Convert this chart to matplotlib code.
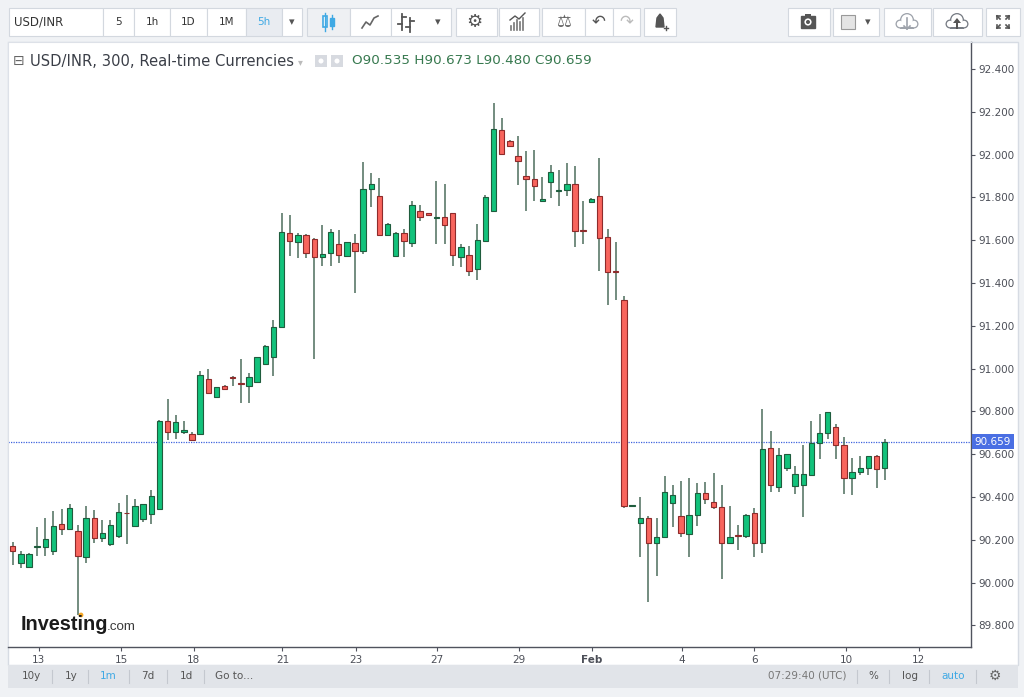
import numpy as np
import matplotlib.pyplot as plt
from matplotlib.patches import Rectangle, Circle, Polygon
from matplotlib.transforms import blended_transform_factory

W, H = 1024, 697

# 5h candles, USD/INR
opens = [90.170, 90.092, 90.075, 90.166, 90.168, 90.149, 90.272, 90.249, 90.240, 90.118,
         90.304, 90.209, 90.181, 90.216, 90.327, 90.266, 90.299, 90.321, 90.343, 90.757,
         90.702, 90.702, 90.693, 90.693, 90.950, 90.869, 90.917, 90.962, 90.932, 90.920,
         90.936, 91.020, 91.056, 91.196, 91.635, 91.590, 91.626, 91.607, 91.523, 91.538,
         91.580, 91.527, 91.585, 91.551, 91.837, 91.805, 91.626, 91.527, 91.632, 91.585,
         91.738, 91.725, 91.704, 91.707, 91.726, 91.523, 91.533, 91.464, 91.595, 91.738,
         92.115, 92.062, 91.994, 91.900, 91.886, 91.785, 91.874, 91.830, 91.833, 91.864,
         91.646, 91.780, 91.807, 91.614, 91.455, 91.321, 90.359, 90.280, 90.303, 90.187,
         90.212, 90.370, 90.311, 90.226, 90.316, 90.420, 90.375, 90.352, 90.185, 90.221,
         90.216, 90.325, 90.185, 90.628, 90.447, 90.537, 90.453, 90.455, 90.503, 90.654,
         90.698, 90.726, 90.643, 90.488, 90.519, 90.537, 90.590, 90.535]
highs = [90.191, 90.146, 90.139, 90.260, 90.302, 90.335, 90.344, 90.366, 90.268, 90.358,
         90.339, 90.291, 90.291, 90.372, 90.408, 90.391, 90.366, 90.434, 90.760, 90.857,
         90.785, 90.757, 90.705, 90.987, 90.996, 90.914, 90.923, 90.963, 91.045, 90.978,
         91.052, 91.112, 91.227, 91.728, 91.716, 91.632, 91.628, 91.609, 91.669, 91.651,
         91.647, 91.592, 91.627, 91.965, 91.912, 91.889, 91.678, 91.637, 91.651, 91.784,
         91.763, 91.727, 91.875, 91.862, 91.728, 91.582, 91.575, 91.674, 91.811, 92.243,
         92.170, 92.068, 92.087, 92.015, 92.020, 91.894, 91.952, 91.928, 91.961, 91.947,
         91.785, 91.795, 91.983, 91.651, 91.593, 91.339, 90.362, 90.398, 90.313, 90.300,
         90.498, 90.456, 90.475, 90.489, 90.467, 90.470, 90.511, 90.456, 90.358, 90.269,
         90.319, 90.347, 90.811, 90.709, 90.628, 90.600, 90.544, 90.643, 90.756, 90.790,
         90.799, 90.740, 90.681, 90.581, 90.590, 90.590, 90.597, 90.673]
lows = [90.082, 90.067, 90.072, 90.126, 90.126, 90.131, 90.221, 90.249, 89.849, 90.092,
        90.184, 90.190, 90.173, 90.206, 90.181, 90.266, 90.283, 90.274, 90.343, 90.667,
        90.670, 90.693, 90.664, 90.690, 90.880, 90.861, 90.900, 90.918, 90.838, 90.838,
        90.936, 91.015, 90.965, 91.193, 91.526, 91.517, 91.517, 91.045, 91.481, 91.481,
        91.492, 91.524, 91.355, 91.535, 91.756, 91.624, 91.624, 91.525, 91.520, 91.569,
        91.691, 91.714, 91.580, 91.580, 91.481, 91.476, 91.433, 91.414, 91.593, 91.736,
        91.998, 92.038, 91.858, 91.738, 91.783, 91.779, 91.796, 91.760, 91.808, 91.570,
        91.584, 91.778, 91.456, 91.297, 91.321, 90.347, 90.358, 90.121, 89.911, 90.032,
        90.207, 90.258, 90.211, 90.121, 90.266, 90.366, 90.342, 90.015, 90.180, 90.152,
        90.207, 90.121, 90.140, 90.425, 90.425, 90.522, 90.413, 90.308, 90.503, 90.576,
        90.671, 90.576, 90.414, 90.410, 90.503, 90.503, 90.441, 90.480]
closes = [90.146, 90.134, 90.134, 90.170, 90.204, 90.263, 90.249, 90.349, 90.123, 90.304,
          90.209, 90.232, 90.268, 90.330, 90.324, 90.357, 90.366, 90.406, 90.757, 90.702,
          90.752, 90.713, 90.667, 90.968, 90.884, 90.912, 90.903, 90.956, 90.930, 90.962,
          91.052, 91.105, 91.196, 91.640, 91.594, 91.626, 91.542, 91.520, 91.535, 91.637,
          91.532, 91.590, 91.551, 91.837, 91.861, 91.626, 91.676, 91.635, 91.594, 91.766,
          91.707, 91.716, 91.707, 91.671, 91.529, 91.568, 91.456, 91.600, 91.802, 92.120,
          92.003, 92.040, 91.969, 91.888, 91.855, 91.793, 91.919, 91.833, 91.864, 91.645,
          91.643, 91.793, 91.609, 91.452, 91.452, 90.359, 90.362, 90.302, 90.187, 90.213,
          90.425, 90.411, 90.230, 90.316, 90.420, 90.392, 90.352, 90.185, 90.211, 90.218,
          90.316, 90.185, 90.626, 90.456, 90.595, 90.600, 90.509, 90.506, 90.653, 90.698,
          90.799, 90.643, 90.488, 90.519, 90.536, 90.590, 90.531, 90.659]

date_labels = ['13', '15', '18', '21', '23', '27', '29', 'Feb', '4', '6', '10', '12']
date_pos = [3.2, 13.3, 22.2, 33.1, 42.1, 52.1, 62.1, 71.1, 82.1, 91.0, 102.3, 111.2]
price_ticks = [89.8, 90.0, 90.2, 90.4, 90.6, 90.8, 91.0, 91.2, 91.4, 91.6, 91.8, 92.0, 92.2, 92.4]

intervals = ['5', '1h', '1D', '1M', '5h']
ranges = ['10y', '1y', '1m', '7d', '1d', 'Go to...']

GREEN, DGREEN = '#12c27b', '#1f5c3d'
RED, DRED = '#f8655d', '#8e2b2b'
WICK = '#4d6e5c'
GREY_TXT = '#4c4f58'
BLUE = '#3fa9e4'

plt.rcParams['font.family'] = ['DejaVu Sans']

fig = plt.figure(figsize=(W / 100, H / 100), dpi=100, facecolor='#f0f2f5')


def px(x0, y0, x1, y1):
    return [x0 / W, 1 - y1 / H, (x1 - x0) / W, (y1 - y0) / H]


# ---- background UI layer (pixel coords)
ui = fig.add_axes([0, 0, 1, 1], zorder=0)
ui.set_xlim(0, W)
ui.set_ylim(H, 0)
ui.axis('off')

ui.add_patch(Rectangle((8, 42), 1010, 623, fc='white', ec='#d6dbe3', lw=1))
ui.add_patch(Rectangle((8, 665), 1010, 23, fc='#e1e4e9', ec='none'))


def button(x0, x1, fc='white'):
    ui.add_patch(Rectangle((x0, 8), x1 - x0, 28, fc=fc, ec='#d3d8df', lw=0.8))


def cloud(cx, cy, col):
    # outlined cloud: grey discs with slightly smaller white discs on top
    parts = [(cx - 7, cy + 3, 4.5), (cx, cy - 1, 7), (cx + 7, cy + 3, 4.5)]
    for x, y, r in parts:
        ui.add_patch(Circle((x, y), r, fc=col, ec='none'))
    ui.add_patch(Rectangle((cx - 7, cy + 2), 14, 5.5, fc=col, ec='none'))
    for x, y, r in parts:
        ui.add_patch(Circle((x, y), r - 1.3, fc='white', ec='none'))
    ui.add_patch(Rectangle((cx - 7, cy + 2), 14, 4.2, fc='white', ec='none'))


button(9, 103)
ui.text(14, 22, 'USD/INR', fontsize=8.5, color='#333333', va='center', ha='left')
iv_x = [(103, 134), (134, 170), (170, 207), (207, 246), (246, 282)]
for lab, (a, b) in zip(intervals, iv_x):
    hl = lab == '5h'
    button(a, b, '#e9ecf1' if hl else 'white')
    ui.text((a + b) / 2, 22, lab, fontsize=7.5, color=BLUE if hl else '#333333',
            ha='center', va='center')
button(282, 302)
ui.text(292, 22, '▾', fontsize=8, color='#555555', ha='center', va='center')

# chart-type buttons
for a, b in [(307, 350), (350, 391), (391, 451), (456, 497), (499, 539), (542, 585),
             (585, 613), (613, 640), (644, 676)]:
    button(a, b, '#eef0f3' if a == 307 else 'white')
# candle icon
ui.plot([325, 325], [13, 31], color=BLUE, lw=1)
ui.add_patch(Rectangle((323, 16), 4, 11, fc='white', ec=BLUE, lw=1.2))
ui.plot([332, 332], [15, 29], color=BLUE, lw=1)
ui.add_patch(Rectangle((330, 18), 4, 8, fc=BLUE, ec=BLUE, lw=1))
# line icon
ui.plot([362, 366, 370, 374, 378], [28, 22, 25, 18, 16], color='#666666', lw=1.2)
# bar icon
ui.plot([402, 402], [14, 30], color='#555555', lw=1.3)
ui.plot([398, 402], [24, 24], color='#555555', lw=1.3)
ui.plot([402, 406], [17, 17], color='#555555', lw=1.3)
ui.plot([410, 410], [18, 32], color='#555555', lw=1.3)
ui.plot([406, 410], [27, 27], color='#555555', lw=1.3)
ui.plot([410, 414], [21, 21], color='#555555', lw=1.3)
ui.text(438, 22, '▾', fontsize=8, color='#555555', ha='center', va='center')
ui.text(474, 22, '⚙', fontsize=13, color='#555555', ha='center', va='center')
for k, hh in enumerate([4, 7, 10, 8, 12]):
    ui.plot([511 + 3 * k, 511 + 3 * k], [30, 30 - hh], color='#777777', lw=1.2)
ui.plot([510, 515, 519, 525], [20, 16, 19, 13], color='#555555', lw=1)
ui.text(564, 22, '⚖', fontsize=12, color='#666666', ha='center', va='center')
ui.text(599, 21, '↶', fontsize=12, color='#555555', ha='center', va='center')
ui.text(626, 21, '↷', fontsize=12, color='#bbbbbb', ha='center', va='center')
ui.add_patch(Polygon([[656, 27], [657, 18], [660, 14], [663, 18], [664, 27]],
                     closed=True, fc='#555555', ec='#555555'))
ui.plot([664, 668], [28, 28], color='#555555', lw=1)
ui.plot([666, 666], [26, 30], color='#555555', lw=1)

# right toolbar buttons
for a, b in [(788, 830), (833, 879), (884, 931), (933, 982), (986, 1020)]:
    button(a, b)
ui.add_patch(Rectangle((801, 16), 14, 12, fc='#555555', ec='#555555'))
ui.add_patch(Rectangle((805, 14), 6, 3, fc='#555555', ec='none'))
ui.add_patch(Circle((808, 22), 3.6, fc='white', ec='none'))
ui.add_patch(Circle((808, 22), 2.0, fc='#555555', ec='none'))
ui.add_patch(Rectangle((841, 15), 14, 14, fc='#e4e4e4', ec='#999999', lw=0.8))
ui.text(868, 22, '▾', fontsize=8, color='#555555', ha='center', va='center')
cloud(907, 21, '#9ea3ab')
ui.plot([907, 907], [18, 29], color='#9ea3ab', lw=1.2)
ui.plot([904, 907, 910], [26, 29, 26], color='#9ea3ab', lw=1.2)
cloud(957, 21, '#777c84')
ui.add_patch(Polygon([[953, 23], [957, 18], [961, 23]], closed=True, fc='#555555', ec='none'))
ui.add_patch(Rectangle((955.8, 22), 2.4, 7, fc='#555555', ec='none'))
for sx, sy in [(-1, -1), (1, -1), (-1, 1), (1, 1)]:
    cx, cy = 1003 + 6 * sx, 22 + 6 * sy
    ui.plot([cx, cx - 3 * sx], [cy, cy - 3 * sy], color='#555555', lw=1.2)
    ui.plot([cx, cx - 3 * sx], [cy, cy], color='#555555', lw=1.2)
    ui.plot([cx, cx], [cy, cy - 3 * sy], color='#555555', lw=1.2)

# bottom bar
rng_x = [31, 71, 108, 148, 186, 234]
for lab, x in zip(ranges, rng_x):
    ui.text(x, 676, lab, fontsize=7.5, color=BLUE if lab == '1m' else '#555555',
            ha='center', va='center')
for x in [52, 88, 129, 167, 204, 857, 889, 929, 976]:
    ui.plot([x, x], [670, 683], color='#c4c8cf', lw=0.8)
for lab, x, col in [('07:29:40 (UTC)', 807, '#777777'), ('%', 873, '#555555'),
                    ('log', 910, '#555555'), ('auto', 953, BLUE)]:
    ui.text(x, 676, lab, fontsize=7.5, color=col, ha='center', va='center')
ui.text(995, 676, '⚙', fontsize=10, color='#666666', ha='center', va='center')

# ---- price chart
ax = fig.add_axes(px(8, 42, 971, 647), zorder=1)
ax.set_facecolor('white')
o = np.array(opens)
h = np.array(highs)
l = np.array(lows)
c = np.array(closes)
idx = np.arange(len(c))
up = c >= o
ax.vlines(idx, l, h, color=WICK, lw=1.1, zorder=2)
ax.bar(idx, np.maximum(np.abs(c - o), 0.0025), bottom=np.minimum(o, c), width=0.66,
       color=np.where(up, GREEN, RED), edgecolor=np.where(up, DGREEN, DRED),
       linewidth=0.8, zorder=3)

ax.set_xlim(-0.577, 117.59)
ax.set_ylim(89.699, 92.526)

ax.yaxis.tick_right()
ax.set_yticks(price_ticks)
ax.set_yticklabels(['%.3f' % v for v in price_ticks])
ax.tick_params(axis='y', length=3, width=0.8, color='#50535e', labelsize=7.5,
               labelcolor=GREY_TXT, pad=2)
ax.set_xticks(date_pos)
ax.set_xticklabels(date_labels)
ax.tick_params(axis='x', length=3, width=0.8, color='#50535e', labelsize=7.5,
               labelcolor=GREY_TXT, pad=3)
for t in ax.get_xticklabels():
    if t.get_text() == 'Feb':
        t.set_fontweight('bold')
for s in ['right', 'bottom']:
    ax.spines[s].set_color('#50535e')
    ax.spines[s].set_linewidth(1)
for s in ['top', 'left']:
    ax.spines[s].set_color('#dde1e8')

# last price line and tag
ax.axhline(c[-1], color='#3e63df', lw=0.9, ls=(0, (1, 1)), zorder=1)
tr = blended_transform_factory(ax.transAxes, ax.transData)
ax.text(1.004, c[-1], '%.3f' % c[-1], transform=tr, fontsize=7.5, color='white',
        ha='left', va='center', clip_on=False,
        bbox=dict(boxstyle='square,pad=0.25', fc='#4a6fe3', ec='none'))

# ---- overlay: legend header and logo
top = fig.add_axes([0, 0, 1, 1], zorder=3)
top.set_xlim(0, W)
top.set_ylim(H, 0)
top.axis('off')
top.text(13, 61, '⊟', fontsize=10, color='#666666', va='center', ha='left')
top.text(30, 61, 'USD/INR, 300, Real-time Currencies', fontsize=10.6, color='#3a3e47',
         va='center', ha='left')
top.text(300, 62, '▾', fontsize=7, color='#bbbbbb', va='center', ha='center')
for x in [315, 331]:
    top.add_patch(Rectangle((x, 55), 12, 12, fc='#d7dae0', ec='none'))
    top.add_patch(Circle((x + 6, 61), 2.5, fc='white', ec='none'))
legend = 'O%.3f H%.3f L%.3f C%.3f' % (o[-1], h[-1], l[-1], c[-1])
top.text(352, 61, legend, fontsize=9.7, color='#37794f', va='center', ha='left')

top.text(21, 624, 'Investing', fontsize=14.3, weight='bold', color='#1b1b1b',
         family='Liberation Sans', va='center', ha='left')
top.text(107, 627.5, '.com', fontsize=9.6, color='#3a3a3a', family='Liberation Sans',
         va='center', ha='left')
top.add_patch(Circle((81, 615), 2.4, fc='#f5a623', ec='none'))

fig.savefig('out.png', dpi=100, facecolor=fig.get_facecolor())
